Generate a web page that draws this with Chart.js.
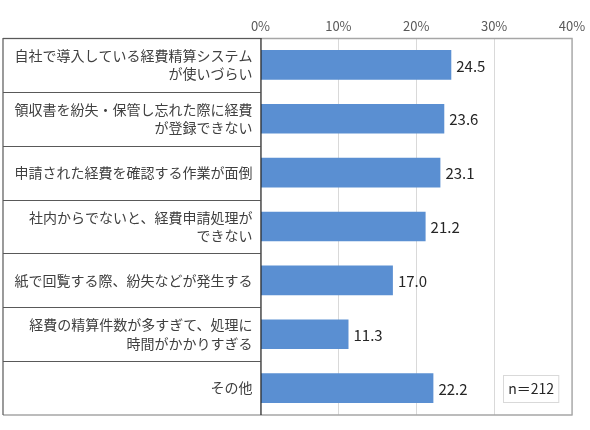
<!DOCTYPE html>
<html><head><meta charset="utf-8">
<script src="https://cdn.jsdelivr.net/npm/chart.js@4"></script>
<style>html,body{margin:0;padding:0;background:#fff}#wrap{width:590px;height:430px}</style>
</head><body><div id="wrap"><canvas id="c"></canvas></div>
<script>
const categories = [
  ["自社で導入している経費精算システム","が使いづらい"],
  ["領収書を紛失・保管し忘れた際に経費","が登録できない"],
  ["申請された経費を確認する作業が面倒"],
  ["社内からでないと、経費申請処理が","できない"],
  ["紙で回覧する際、紛失などが発生する"],
  ["経費の精算件数が多すぎて、処理に","時間がかかりすぎる"],
  ["その他"]
];
const values = [24.5, 23.6, 23.1, 21.2, 17.0, 11.3, 22.2];
const xTicks = [0, 10, 20, 30, 40];
const sampleNote = "n＝212";

const FONT = "'Noto Sans CJK JP', 'Noto Sans', sans-serif";

const decor = {
  id: 'decor',
  afterDraw(chart) {
    const ctx = chart.ctx, a = chart.chartArea, ys = chart.scales.y, xs = chart.scales.x;
    const leftX = 3;
    ctx.save();
    ctx.strokeStyle = '#a6a6a6'; ctx.lineWidth = 1.3;
    ctx.beginPath();
    ctx.moveTo(leftX, a.top + 0.5); ctx.lineTo(a.right, a.top + 0.5);
    ctx.lineTo(a.right, a.bottom); ctx.lineTo(leftX, a.bottom);
    ctx.stroke();
    ctx.strokeStyle = '#595959'; ctx.lineWidth = 1.2;
    ctx.beginPath();
    ctx.moveTo(leftX, a.top); ctx.lineTo(leftX, a.bottom);
    ctx.moveTo(leftX, a.top + 0.5); ctx.lineTo(a.left, a.top + 0.5);
    for (let i = 0; i < categories.length - 1; i++) {
      const y = Math.round((ys.getPixelForValue(i) + ys.getPixelForValue(i + 1)) / 2) + 0.5;
      ctx.moveTo(leftX, y); ctx.lineTo(a.left, y);
    }
    ctx.stroke();
    ctx.strokeStyle = '#262626'; ctx.lineWidth = 1.2;
    ctx.beginPath(); ctx.moveTo(a.left + 0.5, a.top); ctx.lineTo(a.left + 0.5, a.bottom); ctx.stroke();
    const meta = chart.getDatasetMeta(0);
    ctx.fillStyle = '#262626';
    ctx.font = '15px ' + FONT;
    ctx.textAlign = 'left'; ctx.textBaseline = 'middle';
    meta.data.forEach((bar, i) => {
      ctx.fillText(values[i].toFixed(1), bar.x + 5, bar.y + 1);
    });
    const bx0 = xs.getPixelForValue(31.2), bx1 = xs.getPixelForValue(38.3);
    const last = meta.data[meta.data.length - 1];
    const by0 = last.y - 13.5, by1 = last.y + 13.5;
    ctx.strokeStyle = '#d9d9d9'; ctx.lineWidth = 1;
    ctx.strokeRect(Math.round(bx0) + 0.5, Math.round(by0) + 0.5, bx1 - bx0, by1 - by0);
    ctx.fillStyle = '#262626'; ctx.textAlign = 'center';
    ctx.font = '14px ' + FONT;
    ctx.fillText(sampleNote, (bx0 + bx1) / 2, (by0 + by1) / 2 + 1);
    ctx.restore();
  }
};

new Chart(document.getElementById('c'), {
  type: 'bar',
  data: {
    labels: categories,
    datasets: [{
      data: values,
      backgroundColor: '#5a8fd2',
      borderWidth: 0,
      categoryPercentage: 1.0,
      barPercentage: 0.55
    }]
  },
  options: {
    indexAxis: 'y',
    responsive: true,
    maintainAspectRatio: false,
    animation: false,
    devicePixelRatio: 1,
    layout: { padding: { left: 0, right: 18, top: 0, bottom: 15 } },
    plugins: { legend: { display: false }, tooltip: { enabled: false } },
    scales: {
      x: {
        position: 'top',
        min: 0, max: 40,
        afterBuildTicks(s) { s.ticks = xTicks.map(v => ({ value: v })); },
        ticks: { callback: v => v + '%', color: '#595959', font: { size: 13, family: FONT }, padding: 4 },
        grid: { color: '#d9d9d9', drawTicks: false, lineWidth: 1 },
        border: { display: false },
        afterFit(s) { s.height = 38; s.paddingLeft = 0; s.paddingRight = 0; }
      },
      y: {
        position: 'left',
        ticks: { color: '#404040', font: { size: 14, family: FONT, lineHeight: 1.3 }, padding: 8, autoSkip: false },
        grid: { display: false, drawTicks: false },
        border: { display: false },
        afterFit(s) { s.width = 260.5; s.paddingTop = 0; s.paddingBottom = 0; }
      }
    }
  },
  plugins: [decor]
});
</script>
</body></html>
